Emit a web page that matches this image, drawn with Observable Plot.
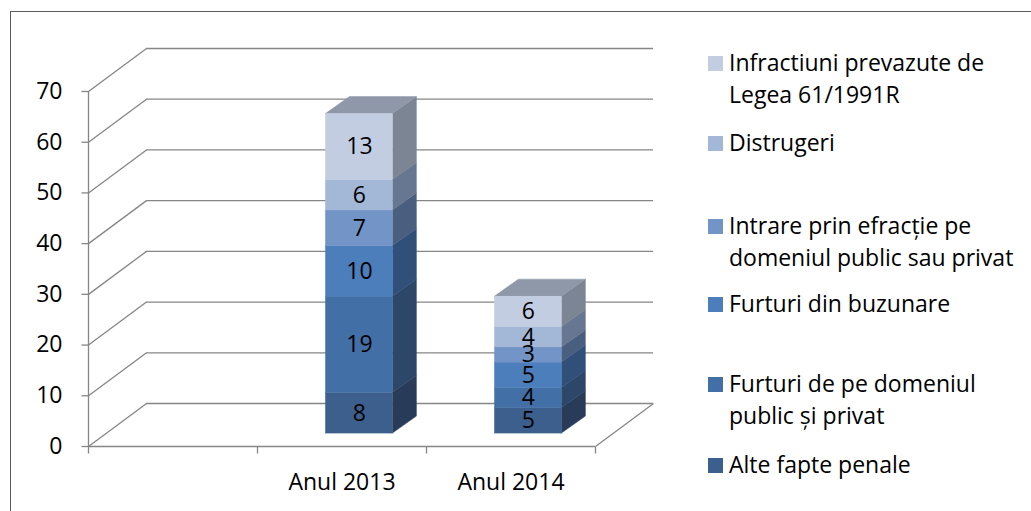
<!DOCTYPE html>
<html>
<head>
<meta charset="utf-8">
<script src="https://cdn.jsdelivr.net/npm/d3@7"></script>
<script src="https://cdn.jsdelivr.net/npm/@observablehq/plot@0.6"></script>
<style>
  html, body { margin: 0; padding: 0; background: #fff; overflow: hidden; }
  #wrap { position: relative; width: 1031px; height: 511px; font-family: "Open Sans", sans-serif; }
  #chart { position: absolute; left: 0; top: 0; }
  #frame { position: absolute; left: 10px; top: 11px; width: 1100px; height: 600px;
           border-left: 1.5px solid #5a5a5a; border-top: 1.5px solid #5a5a5a; pointer-events: none; }
  .item { position: absolute; left: 708px; font-size: 23px; line-height: 32px; color: #000; white-space: pre; }
  .sw { position: absolute; left: 0; top: 10px; width: 15px; height: 15px; }
  .lab { position: absolute; left: 21px; top: 0; }
</style>
</head>
<body>
<div id="wrap">
  <div id="chart"></div>
  <div id="legend"></div>
  <div id="frame"></div>
</div>
<script>
// ---- data ----
const categories = ["Anul 2013", "Anul 2014"];
const series = [
  "Alte fapte penale",
  "Furturi de pe domeniul\npublic și privat",
  "Furturi din buzunare",
  "Intrare prin efracție pe\ndomeniul public sau privat",
  "Distrugeri",
  "Infractiuni prevazute de\nLegea 61/1991R"
];
const values2013 = [8, 19, 10, 7, 6, 13];
const values2014 = [5, 4, 5, 3, 4, 6];
const yTicks = [0, 10, 20, 30, 40, 50, 60, 70];

// ---- styles ----
const frontColors = ["#3C5F8D", "#4270A6", "#4B7EBA", "#7394C6", "#A3B7D7", "#C3CDE2"];
const sideColors  = ["#283C59", "#2C4768", "#30507A", "#4A5E80", "#687791", "#7C8594"];
const topColor = "#8F98A9";
const gridColor = "#868686";
const legendTops = [46, 126, 209, 287, 367, 448]; // top-to-bottom legend item positions

// ---- layout ----
const W = 700, H = 511, mL = 88, mR = 105, mT = 91, mB = 65;
const pxX = (W - mL - mR) / 3;       // pixels per x unit
const pxY = (H - mT - mB) / 70;      // pixels per y unit
const wallDX = 58 / pxX, wallDY = 43 / pxY;
const barFX = 0.3 * wallDX, barFY = 0.3 * wallDY;
const barDX = 24 / pxX, barDY = 17 / pxY;
const barHalf = 33.5 / pxX;

const allValues = [values2013, values2014];
const rows = [];
categories.forEach((cat, ci) => {
  let acc = 0;
  series.forEach((s, si) => {
    const v = allValues[ci][si];
    rows.push({cat, ci, si, s, value: v, lo: acc, hi: acc + v});
    acc += v;
  });
});
const xc = r => r.ci + 1.5;
const xl = r => xc(r) - barHalf + barFX;
const xr = r => xc(r) + barHalf + barFX;

const sidePts = rows.flatMap((r, k) => [
  {id: k, x: xr(r), y1: r.lo + barFY, y2: r.hi + barFY, c: sideColors[r.si]},
  {id: k, x: xr(r) + barDX, y1: r.lo + barFY + barDY, y2: r.hi + barFY + barDY, c: sideColors[r.si]}
]);
const topRows = rows.filter(r => r.si === series.length - 1);
const topPts = topRows.flatMap((r, k) => [
  {id: k, y: r.hi + barFY, x1: xl(r), x2: xr(r)},
  {id: k, y: r.hi + barFY + barDY, x1: xl(r) + barDX, x2: xr(r) + barDX}
]);

const line = {stroke: gridColor, strokeWidth: 1.3};

const plot = Plot.plot({
  width: W, height: H,
  marginLeft: mL, marginRight: mR, marginTop: mT, marginBottom: mB,
  x: {domain: [0, 3], axis: null},
  y: {domain: [0, 70], axis: null},
  color: {type: "identity"},
  style: {fontFamily: "Open Sans", background: "white", overflow: "visible"},
  marks: [
    // back wall gridlines
    Plot.ruleY(yTicks, {y: d => d + wallDY, x1: wallDX, x2: 3 + wallDX, ...line}),
    // side wall diagonals
    Plot.link(yTicks, {x1: 0, x2: wallDX, y1: d => d, y2: d => d + wallDY, ...line}),
    // floor front edge and right diagonal
    Plot.ruleY([0], {y: 0, x1: 0, x2: 3, ...line}),
    Plot.link([3], {x1: 3, x2: 3 + wallDX, y1: 0, y2: wallDY, ...line}),
    // vertical axis line
    Plot.ruleX([0], {x: 0, y1: 0, y2: 70, ...line}),
    // y ticks
    Plot.link(yTicks, {x1: -7 / pxX, x2: 0, y1: d => d, y2: d => d, ...line}),
    // x ticks
    Plot.link([0, 1, 2, 3], {x1: d => d, x2: d => d, y1: 0, y2: -7 / pxY, ...line}),
    // bar side faces
    Plot.areaY(sidePts, {x: "x", y1: "y1", y2: "y2", z: "id", fill: "c", stroke: "c", strokeWidth: 0.5}),
    // bar top faces
    Plot.areaX(topPts, {y: "y", x1: "x1", x2: "x2", z: "id", fill: topColor, stroke: topColor, strokeWidth: 0.5}),
    // bar front faces
    Plot.rect(rows, {x1: xl, x2: xr, y1: r => r.lo + barFY, y2: r => r.hi + barFY,
      fill: r => frontColors[r.si], stroke: r => frontColors[r.si], strokeWidth: 0.4}),
    // value labels
    Plot.text(rows, {x: r => xc(r) + barFX, y: r => (r.lo + r.hi) / 2 + barFY, text: r => String(r.value),
      fontSize: 23, fill: "#000"}),
    // y labels
    Plot.text(yTicks, {x: 0, y: d => d, text: d => String(d), textAnchor: "end", dx: -26, fontSize: 23, fill: "#000"}),
    // x labels
    Plot.text(categories, {x: (d, i) => i + 1.5, y: 0, dy: 36, text: d => d, fontSize: 23, fill: "#000"})
  ]
});
document.getElementById("chart").appendChild(plot);

// legend (top-to-bottom = reverse stacking order)
const legend = document.getElementById("legend");
series.slice().reverse().forEach((s, i) => {
  const si = series.length - 1 - i;
  const item = document.createElement("div");
  item.className = "item";
  item.style.top = legendTops[i] + "px";
  const sw = document.createElement("div");
  sw.className = "sw";
  sw.style.background = frontColors[si];
  const lab = document.createElement("div");
  lab.className = "lab";
  lab.textContent = s;
  item.appendChild(sw);
  item.appendChild(lab);
  legend.appendChild(item);
});
</script>
</body>
</html>
